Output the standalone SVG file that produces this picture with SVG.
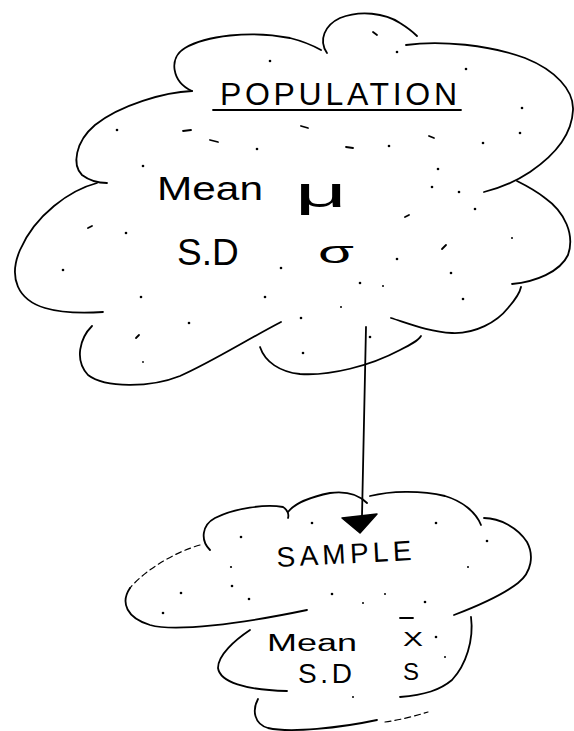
<svg xmlns="http://www.w3.org/2000/svg" width="574" height="731" viewBox="0 0 574 731">
<style>
.c{fill:none;stroke:#000;stroke-width:1.8;stroke-linecap:round;stroke-linejoin:round}
.f{fill:none;stroke:#000;stroke-width:1.2;stroke-linecap:round;stroke-dasharray:6 4}
.t{font-family:"Liberation Sans",Arial,sans-serif;fill:#000}
.d{fill:#000}
</style>
<rect width="574" height="731" fill="#fff"/>
<g id="population">
<path class="c" d="M192,91 C172,82 168,58 185,48 C205,36 250,30 290,38 C302,41 312,45 321,50"/>
<path class="c" d="M192,91 C165,92 120,105 95,125 C75,142 72,165 82,175 C90,181 100,183 107,183"/>
<path class="c" d="M97,183 C70,190 35,215 20,250 C8,278 18,300 45,308 C65,314 88,313 103,312"/>
<path class="c" d="M92,326 C80,338 74,360 88,375 C105,388 150,388 180,376 C210,363 250,338 281,322"/>
<path class="c" d="M260,347 C265,362 280,372 300,374 C330,376 370,366 400,350 C410,345 418,341 421,336"/>
<path class="c" d="M391,318 C410,324 430,332 452,333 C475,334 497,322 508,308 C515,300 520,292 521,287"/>
<path class="c" d="M512,284 C535,282 560,272 568,255 C575,235 565,212 545,198 C535,190 525,185 517,181"/>
<path class="c" d="M406,45 C440,40 490,45 525,58 C555,70 574,90 573,110 C572,135 555,155 530,172 C515,182 500,188 484,192"/>
<path class="c" d="M327,53 C318,40 325,25 340,18 C360,10 385,13 400,23 C408,28 413,32 417,36"/>
<text class="t" x="220" y="105" font-size="32" textLength="237" lengthAdjust="spacing">POPULATION</text>
<line class="c" x1="213" y1="110" x2="461" y2="110"/>
<text class="t" x="157" y="200" font-size="34" textLength="106" lengthAdjust="spacingAndGlyphs">Mean</text>
<text class="t" x="295" y="207" font-size="42" textLength="52" lengthAdjust="spacingAndGlyphs">μ</text>
<text class="t" x="177" y="265" font-size="37">S.D</text>
<text class="t" x="318" y="263" font-size="31" textLength="36" lengthAdjust="spacingAndGlyphs">σ</text>
<g class="d">
<circle cx="270" cy="61" r="1.3"/><circle cx="117" cy="130" r="1.3"/><circle cx="257" cy="149" r="1.3"/><circle cx="143" cy="166" r="1.3"/>
<circle cx="397" cy="52" r="1.3"/><circle cx="466" cy="69" r="1.3"/><circle cx="522" cy="108" r="1.3"/><circle cx="389" cy="146" r="1.3"/>
<circle cx="483" cy="143" r="1.3"/><circle cx="520" cy="133" r="1.3"/><circle cx="438" cy="169" r="1.3"/><circle cx="432" cy="187" r="1.3"/>
<circle cx="459" cy="192" r="1.3"/><circle cx="126" cy="233" r="1.3"/><circle cx="63" cy="270" r="1.3"/><circle cx="141" cy="297" r="1.3"/>
<circle cx="265" cy="297" r="1.3"/><circle cx="189" cy="323" r="1.3"/><circle cx="281" cy="268" r="1.3"/><circle cx="475" cy="209" r="1.3"/>
<circle cx="512" cy="238" r="1"/><circle cx="397" cy="259" r="1.3"/><circle cx="451" cy="273" r="1.3"/><circle cx="360" cy="283" r="1.3"/>
<circle cx="383" cy="286" r="1"/><circle cx="463" cy="299" r="1.3"/><circle cx="341" cy="307" r="1"/><circle cx="301" cy="318" r="1.3"/>
<circle cx="370" cy="337" r="1.3"/><circle cx="303" cy="353" r="1.3"/><circle cx="143" cy="362" r="0.9"/>
</g>
<g class="c">
<line x1="183" y1="131" x2="191" y2="130"/><line x1="210" y1="140" x2="218" y2="142"/><line x1="301" y1="126" x2="308" y2="128"/>
<line x1="346" y1="147" x2="353" y2="148"/><line x1="429" y1="136" x2="434" y2="138"/><line x1="373" y1="32" x2="377" y2="35"/>
<line x1="88" y1="228" x2="92" y2="226"/><line x1="136" y1="338" x2="139" y2="335"/><line x1="405" y1="217" x2="409" y2="215"/>
<line x1="442" y1="249" x2="446" y2="245"/>
</g>
</g>
<g id="sample">
<path class="c" d="M210,550 C200,540 202,525 215,518 C235,508 265,504 283,507 C288,510 289,515 288,518"/>
<path class="c" d="M288,512 C295,503 310,497 330,493 C345,491 358,494 367,503"/>
<path class="c" d="M370,496 C390,491 420,490 445,496 C462,501 476,512 481,525"/>
<path class="c" d="M484,518 C500,518 518,528 527,542 C534,555 532,572 518,583 C500,597 475,607 454,615"/>
<path class="f" d="M200,545 C175,552 145,570 130,588"/>
<path class="c" d="M130,588 C120,603 127,618 150,625 C175,632 240,624 307,610"/>
<path class="c" d="M250,630 C235,640 218,655 218,668 C220,682 245,690 287,691"/>
<path class="c" d="M471,617 C474,640 466,665 452,680 C440,690 425,695 400,697"/>
<line class="c" x1="400" y1="618" x2="413" y2="618"/>
<path class="c" d="M258,699 C252,710 254,724 268,728 C290,733 340,728 377,720"/>
<path class="f" d="M385,722 C400,720 415,716 428,712"/>
<text class="t" x="277" y="567" font-size="28" textLength="135" lengthAdjust="spacing" transform="rotate(-3 277 567)">SAMPLE</text>
<text class="t" x="267" y="651" font-size="23" textLength="90" lengthAdjust="spacingAndGlyphs">Mean</text>
<text class="t" x="403" y="646" font-size="20" textLength="20" lengthAdjust="spacingAndGlyphs">X</text>
<text class="t" x="298" y="683" font-size="28" textLength="54" lengthAdjust="spacing">S.D</text>
<text class="t" x="403" y="680" font-size="24">S</text>
<g class="d">
<circle cx="312" cy="523" r="1.3"/><circle cx="436" cy="523" r="1.3"/><circle cx="241" cy="537" r="1.3"/><circle cx="231" cy="567" r="1.1"/>
<circle cx="232" cy="586" r="1.3"/><circle cx="181" cy="593" r="1.3"/><circle cx="249" cy="599" r="1.3"/><circle cx="332" cy="594" r="1.3"/>
<circle cx="385" cy="594" r="1"/><circle cx="425" cy="602" r="1.3"/><circle cx="363" cy="603" r="1"/><circle cx="163" cy="613" r="1.3"/>
<circle cx="487" cy="541" r="1.3"/><circle cx="468" cy="567" r="1"/><circle cx="436" cy="637" r="1.3"/><circle cx="445" cy="657" r="1"/>
<circle cx="353" cy="697" r="1"/>
</g>
</g>
<g id="connectors">
<line class="c" x1="366" y1="327" x2="362" y2="516"/>
<polygon points="342,518 377,514 360,533" fill="#000" stroke="#000" stroke-width="1.5" stroke-linejoin="round"/>
</g>
</svg>
